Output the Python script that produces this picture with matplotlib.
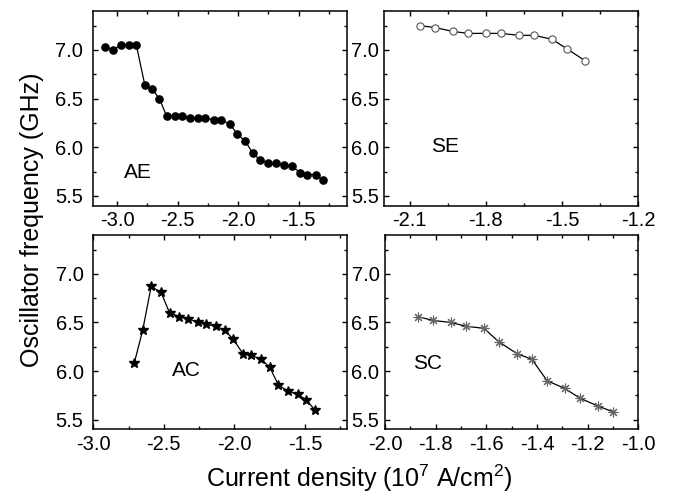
import matplotlib
matplotlib.use("Agg")
import matplotlib.pyplot as plt
from matplotlib.ticker import MultipleLocator, FormatStrFormatter

plt.rcParams['font.family'] = ['Liberation Sans', 'DejaVu Sans']
plt.rcParams['mathtext.default'] = 'regular'
plt.rcParams['axes.unicode_minus'] = False

# ---- data ----
ae_x = [-3.10, -3.03, -2.97, -2.90, -2.84, -2.77, -2.71, -2.65, -2.59, -2.52,
        -2.46, -2.40, -2.33, -2.27, -2.20, -2.14, -2.07, -2.01, -1.94, -1.88,
        -1.82, -1.75, -1.69, -1.62, -1.56, -1.49, -1.43, -1.36, -1.30]
ae_y = [7.03, 7.00, 7.05, 7.05, 7.05, 6.64, 6.60, 6.50, 6.32, 6.32,
        6.32, 6.30, 6.30, 6.30, 6.28, 6.28, 6.24, 6.14, 6.06, 5.94,
        5.87, 5.84, 5.84, 5.82, 5.81, 5.74, 5.72, 5.72, 5.66]

se_x = [-2.06, -2.00, -1.93, -1.87, -1.80, -1.74, -1.67, -1.61, -1.54, -1.48, -1.41]
se_y = [7.25, 7.23, 7.19, 7.17, 7.17, 7.17, 7.15, 7.15, 7.11, 7.01, 6.89]

ac_x = [-2.71, -2.65, -2.59, -2.52, -2.46, -2.39, -2.33, -2.26, -2.20, -2.13,
        -2.07, -2.01, -1.94, -1.88, -1.81, -1.75, -1.69, -1.62, -1.55, -1.49, -1.43]
ac_y = [6.08, 6.42, 6.87, 6.81, 6.60, 6.56, 6.54, 6.50, 6.48, 6.46,
        6.42, 6.33, 6.18, 6.16, 6.12, 6.04, 5.86, 5.79, 5.76, 5.70, 5.60]

sc_x = [-1.87, -1.81, -1.74, -1.68, -1.61, -1.55, -1.48, -1.42, -1.36, -1.29, -1.23, -1.16, -1.10]
sc_y = [6.56, 6.52, 6.50, 6.46, 6.44, 6.30, 6.18, 6.12, 5.90, 5.82, 5.72, 5.64, 5.58]

panel_labels = ['AE', 'SE', 'AC', 'SC']
y_ticks = [5.5, 6.0, 6.5, 7.0]

fig = plt.figure(figsize=(6.78, 4.93), dpi=100)

W, H = 678.0, 493.0
def ax_at(l, t, r, b):
    return fig.add_axes([l / W, 1 - b / H, (r - l) / W, (b - t) / H])

ax_ae = ax_at(92.7, 11, 347.3, 205.7)
ax_se = ax_at(384.3, 11, 638.3, 205.7)
ax_ac = ax_at(93.3, 235, 347.3, 429.3)
ax_sc = ax_at(385, 235, 638.3, 429.3)

ax_ae.plot(ae_x, ae_y, '-', color='black', lw=0.9, marker='o', ms=5.2,
           mfc='black', mec='black')
ax_se.plot(se_x, se_y, '-', color='black', lw=0.9, marker='o', ms=5.2,
           mfc='white', mec='#555555', mew=0.8)
ax_ac.plot(ac_x, ac_y, '-', color='black', lw=0.9, marker='*', ms=7,
           mfc='black', mec='black')
ax_sc.plot(sc_x, sc_y, '-', color='black', lw=0.9, marker=(8, 2, 0), ms=7,
           mec='#666666', mew=0.8)

cfg = [
    (ax_ae, (-3.2, -1.1), 0.5, 0.25, 7.0, (0.177, 0.170)),
    (ax_se, (-2.2, -1.2), 0.3, 0.15, 4.0, (0.239, 0.303)),
    (ax_ac, (-3.0, -1.2), 0.5, 0.25, 7.0, (0.368, 0.305)),
    (ax_sc, (-2.0, -1.0), 0.2, 0.1, 4.0, (0.167, 0.340)),
]
for (ax, xl, maj, mnr, ypad, tpos), lab in zip(cfg, panel_labels):
    ax.set_xlim(*xl)
    ax.set_ylim(5.4, 7.4)
    ax.xaxis.set_major_locator(MultipleLocator(maj))
    ax.xaxis.set_minor_locator(MultipleLocator(mnr))
    ax.set_yticks(y_ticks)
    ax.yaxis.set_minor_locator(MultipleLocator(0.25))
    ax.xaxis.set_major_formatter(FormatStrFormatter('%.1f'))
    ax.yaxis.set_major_formatter(FormatStrFormatter('%.1f'))
    ax.tick_params(which='both', direction='in', top=True, right=True,
                   width=1.0, labelsize=14.5)
    ax.tick_params(which='major', length=3.5)
    ax.tick_params(which='minor', length=2.0)
    ax.tick_params(axis='x', pad=4)
    ax.tick_params(axis='y', pad=ypad)
    for s in ax.spines.values():
        s.set_linewidth(1.1)
    ax.text(tpos[0], tpos[1], lab, transform=ax.transAxes, fontsize=15,
            ha='center', va='center')

fig.text(31.7 / W, 1 - 220 / H, 'Oscillator frequency (GHz)', rotation=90,
         fontsize=18, ha='center', va='center')
fig.text(359.5 / W, (H - 487.3) / H, 'Current density (10$^7$ A/cm$^2$)',
         fontsize=18, ha='center', va='baseline')

fig.savefig('out.png', dpi=100)
